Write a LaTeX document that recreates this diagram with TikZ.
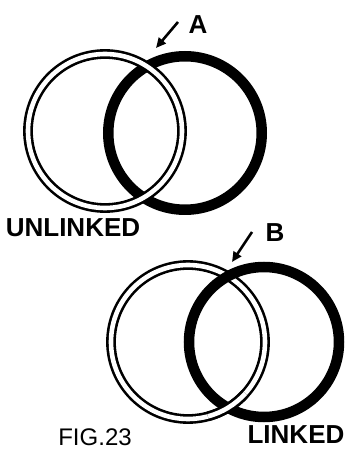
\documentclass[tikz,border=0pt]{standalone}
\usepackage{fontspec}
\setmainfont{Liberation Sans}
\usetikzlibrary{arrows.meta, calc}

\tikzset{
  hollow ring/.style={line width=2.6pt, double=white, double distance=4.6pt},
  solid ring/.style={line width=10.5pt},
  caption/.style={font=\fontsize{26}{26}\selectfont\bfseries, inner sep=0pt},
  fig caption/.style={font=\fontsize{24}{24}\selectfont, inner sep=0pt},
  pointer/.style={line width=2.6pt, -{Triangle[length=10pt,width=9pt]}},
}

\begin{document}
\begin{tikzpicture}[x=1pt, y=1pt]
  \useasboundingbox (0,0) rectangle (351,453);
  % centres of the rings
  \coordinate (w1) at (105,322);
  \coordinate (b1) at (185,320);
  \coordinate (w2) at (188,111);
  \coordinate (b2) at (264,111);
  % pointer ends
  \coordinate (A0) at (178,431);
  \coordinate (A1) at (156,405);
  \coordinate (B0) at (252,221);
  \coordinate (B1) at (232,191);

  % unlinked: the hollow ring lies over the solid one twice
  \draw[solid ring] (b1) circle[radius=76.75];
  \draw[hollow ring] (w1) circle[radius=77];

  % linked: over at the top, under at the bottom
  \draw[hollow ring] (w2) circle[radius=77];
  \draw[solid ring] (b2) circle[radius=75];
  \draw[hollow ring] ($(w2)+(-75:77)$) arc[start angle=-75, end angle=-42, radius=77];

  \draw[pointer] (A0) -- (A1);
  \draw[pointer] (B0) -- (B1);

  \node[caption] (A) at (198,428) {A};
  \node[caption] (B) at (275,220) {B};
  \node[caption] (unlinked) at (73,225) {UNLINKED};
  \node[caption] (linked) at (296,18) {LINKED};
  \node[fig caption] (fig) at (95,16) {FIG.23};
\end{tikzpicture}
\end{document}
